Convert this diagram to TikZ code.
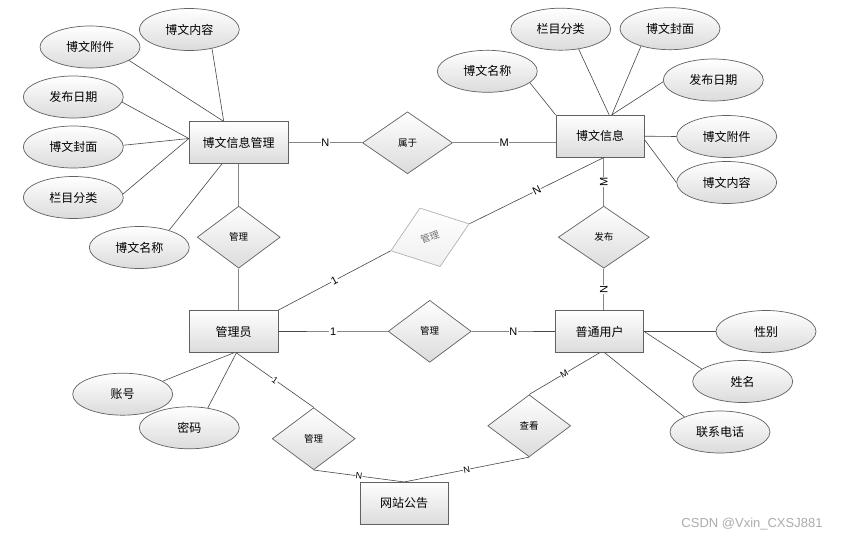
\documentclass[tikz,border=0pt]{standalone}
\usepackage{fontspec}
\setmainfont{Liberation Sans}
\newfontfamily\cjk{Noto Sans CJK SC}
\usetikzlibrary{shapes.geometric,calc}
\begin{document}
\begin{tikzpicture}[x=1pt,y=-1pt,
  shadebase/.style={top color=white,bottom color=black!14,draw=black!62,line width=0.7pt},
  entity/.style={shadebase,rectangle,minimum width=88.5pt,minimum height=42pt,inner sep=0pt,font=\cjk\fontsize{12}{12}\selectfont},
  wideent/.style={minimum width=99pt},
  attr/.style={shadebase,ellipse,minimum width=100pt,minimum height=42pt,inner sep=0pt,font=\cjk\fontsize{12}{12}\selectfont},
  rel/.style={shadebase,diamond,minimum width=83pt,minimum height=62pt,inner sep=0pt,font=\cjk\fontsize{9.5}{10}\selectfont},
  faderel/.style={rel,draw=black!30,top color=white,bottom color=black!6,text=black!55},
  link/.style={draw=black!72,line width=0.6pt},
  rlink/.style={draw=black!48,line width=1.1pt},
  lab/.style={fill=white,inner sep=0.6pt,font=\fontsize{11}{11}\selectfont},
  slab/.style={fill=white,inner sep=0.4pt,font=\fontsize{9}{9}\selectfont,sloped}]
\useasboundingbox (0,0) rectangle (843,540);
\fill[white] (0,0) rectangle (843,540);

% entities
\node[entity,wideent] (bwgl) at (238.7,142.8) {博文信息管理};
\node[entity] (bwxx) at (600.2,136.2) {博文信息};
\node[entity] (gly) at (233.7,331.5) {管理员};
\node[entity] (ptyh) at (599.5,331.5) {普通用户};
\node[entity] (wzgg) at (404.2,503.3) {网站公告};

% attributes
\node[attr] (nr1) at (189.3,29.5) {博文内容};
\node[attr] (fj1) at (90,47) {博文附件};
\node[attr] (rq1) at (73.3,97) {发布日期};
\node[attr] (fm1) at (73.3,147) {博文封面};
\node[attr] (lm1) at (73.3,197.5) {栏目分类};
\node[attr] (mc1) at (139.3,247.5) {博文名称};
\node[attr] (mc2) at (487.3,71.3) {博文名称};
\node[attr] (lm2) at (560.7,29.2) {栏目分类};
\node[attr] (fm2) at (670,28.7) {博文封面};
\node[attr] (rq2) at (713.3,80) {发布日期};
\node[attr] (fj2) at (726.7,136.5) {博文附件};
\node[attr] (nr2) at (726.7,182.5) {博文内容};
\node[attr] (xb) at (766,331.5) {性别};
\node[attr] (xm) at (742.7,381.5) {姓名};
\node[attr] (dh) at (720,432) {联系电话};
\node[attr] (zh) at (122.7,394.2) {账号};
\node[attr] (mm) at (189.3,427.8) {密码};

% relationships
\node[rel,minimum width=90pt] (sy) at (407.5,142.8) {属于};
\node[rel,minimum width=91pt] (fb) at (603.8,237.2) {发布};
\node[rel] (gl1) at (238.7,237.2) {管理};
\node[faderel,rotate=19] (gl2) at (430,237.3) {管理};
\node[rel] (gl3) at (429.7,331.3) {管理};
\node[rel] (gl4) at (313.7,438.7) {管理};
\node[rel] (ck) at (529.2,425.8) {查看};

% attribute links: 博文信息管理
\draw[link] (nr1.-40) -- ($(bwgl.north west)!0.35!(bwgl.north east)$);
\draw[link] (fj1.-19) -- ($(bwgl.north west)!0.35!(bwgl.north east)$);
\draw[link] (rq1.-6) -- ($(bwgl.north west)!0.4!(bwgl.south west)$);
\draw[link] (fm1.2) -- ($(bwgl.north west)!0.4!(bwgl.south west)$);
\draw[link] (lm1.4) -- ($(bwgl.north west)!0.4!(bwgl.south west)$);
\draw[link] (mc1.30) -- ($(bwgl.south west)!0.33!(bwgl.south east)$);

% attribute links: 博文信息
\draw[link] (mc2.-15) -- (bwxx.north west);
\draw[link] (lm2.-48) -- ($(bwxx.north west)!0.6!(bwxx.north east)$);
\draw[link] (fm2.-149) -- ($(bwxx.north west)!0.63!(bwxx.north east)$);
\draw[link] (rq2.182) -- ($(bwxx.north west)!0.63!(bwxx.north east)$);
\draw[link] (bwxx.east) -- (fj2.west);
\draw[link] ($(bwxx.north east)!0.59!(bwxx.south east)$) -- (nr2.west);

% attribute links: 普通用户
\draw[link] (ptyh.east) -- (xb.west);
\draw[link] (ptyh.east) -- (xm.163);
\draw[link] ($(ptyh.south west)!0.56!(ptyh.south east)$) -- (dh.157);

% attribute links: 管理员
\draw[link] (zh.18) -- (gly.south);
\draw[link] (mm.47) -- ($(gly.south west)!0.53!(gly.south east)$);

% relationship links
\draw[rlink] (bwgl.east) -- node[lab] {N} (sy.west);
\draw[rlink] (sy.east) -- node[lab] {M} (sy.east -| bwxx.west);
\draw[rlink] (fb.north |- bwxx.south) -- node[lab,rotate=90] {M} (fb.north);
\draw[rlink] (fb.south) -- node[lab,rotate=90] {N} (fb.south |- ptyh.north);
\draw[rlink] (bwgl.south) -- (gl1.north);
\draw[rlink] (gl1.south) -- (gl1.south |- gly.north);
\draw[link] (gly.north east) -- node[lab,sloped] {1} (gl2.west);
\draw[link] (gl2.east) -- node[lab,sloped] {N} (fb.north |- bwxx.south);
\draw[link] (gly.east) -- node[lab] {1} (gl3.west);
\draw[link] (gl3.east) -- node[lab] {N} (ptyh.west);
\draw[link] ($(gly.south west)!0.53!(gly.south east)$) -- node[slab] {1} (gl4.north);
\draw[link] (gl4.south) -- node[slab] {N} (wzgg.north);
\draw[link] ($(ptyh.south west)!0.5!(ptyh.south east)$) -- node[slab] {M} (ck.north);
\draw[link] (ck.south) -- node[slab] {N} (wzgg.north);

% watermark
\node[text=black!32,font=\fontsize{13}{13}\selectfont] (wm) at (752,524) {CSDN @Vxin\_CXSJ881};
\end{tikzpicture}
\end{document}
